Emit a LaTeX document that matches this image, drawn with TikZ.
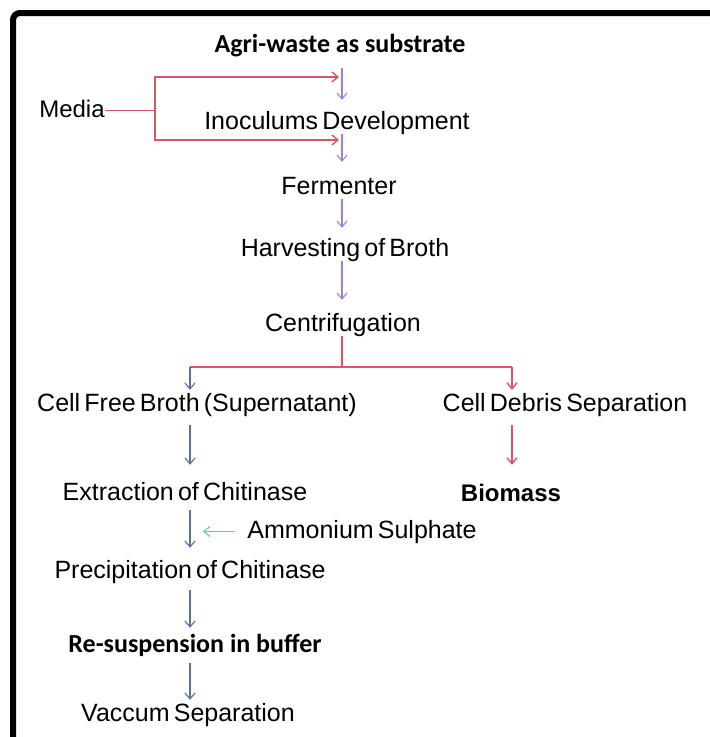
\documentclass[tikz,border=0pt]{standalone}
\usepackage{fontspec}
\setmainfont{Liberation Sans}[WordSpace=0.6]
\newfontfamily\calfont{Carlito}
\usetikzlibrary{arrows.meta,calc}
\definecolor{pcol}{RGB}{165,125,210}
\definecolor{rcol}{RGB}{215,85,100}
\definecolor{bcol}{RGB}{95,110,150}
\definecolor{gcol}{RGB}{90,205,155}
\tikzset{
  lbl/.style={inner sep=0pt, anchor=base, text height=18pt, text depth=5pt, font=\fontsize{25}{28}\selectfont},
  cal/.style={lbl, font=\calfont\bfseries\fontsize{26}{30}\selectfont},
  tip/.style={-{Straight Barb[length=6pt,width=10pt]}},
  parr/.style={tip, draw=pcol, line width=1.1pt},
  rline/.style={draw=rcol, line width=1.4pt},
  rarr/.style={tip, rline},
  barr/.style={tip, draw=bcol, line width=1.1pt},
  garr/.style={tip, draw=gcol, line width=1.1pt},
  frame/.style={line width=6pt, rounded corners=7pt}
}
\begin{document}
\begin{tikzpicture}[x=1pt,y=-1pt]
\useasboundingbox (0,0) rectangle (710,737);
\clip (0,0) rectangle (710,737);
\fill[white] (0,0) rectangle (710,737);
\draw[frame] (13,800) -- (13,13) -- (780,13);
% column coordinates
\coordinate (ax) at (342,0);
\coordinate (bx) at (190,0);
\coordinate (cx) at (512,0);
\coordinate (mx) at (155,0);
% nodes
\node[cal] (agri) at (340,52) {Agri-waste as substrate};
\node[lbl, font=\fontsize{24}{27}\selectfont] (media) at (72,117) {Media};
\node[lbl] (inoc) at (337,129) {Inoculums Development};
\node[lbl] (ferm) at (339,194) {Fermenter};
\node[lbl] (harv) at (345,256) {Harvesting of Broth};
\node[lbl] (centr) at (343,331) {Centrifugation};
\node[lbl] (cfb) at (197,411) {Cell Free Broth (Supernatant)};
\node[lbl] (cds) at (565,411) {Cell Debris Separation};
\node[lbl] (extr) at (185,500) {Extraction of Chitinase};
\node[lbl, font=\bfseries\fontsize{24}{27}\selectfont] (bio) at (511,501) {Biomass};
\node[lbl] (amm) at (362,538) {Ammonium Sulphate};
\node[lbl] (prec) at (190,578) {Precipitation of Chitinase};
\node[cal] (resus) at (195,652) {Re-suspension in buffer};
\node[lbl] (vac) at (188,721) {Vaccum Separation};
% junctions
\coordinate (mj) at (media.east -| mx);
\coordinate (rt) at (339,77);
\coordinate (rb) at (339,140);
\coordinate (cj) at (342,367);
\coordinate (cl) at (190,367);
\coordinate (cr) at (512,367);
% media bracket
\draw[rline, line width=1.6pt] (media.east) -- (mj);
\draw[rarr] (mj) |- (rt);
\draw[rarr] (mj) |- (rb);
% main column
\draw[parr, shorten <=11pt, shorten >=11pt] (agri.south -| ax) -- (inoc.north -| ax);
\draw[parr, shorten >=14pt] (inoc.south -| ax) -- (ferm.north -| ax);
\draw[parr, shorten >=10pt] (ferm.south -| ax) -- (harv.north -| ax);
\draw[parr, shorten >=13pt] (harv.south -| ax) -- (centr.north -| ax);
% split
\draw[rline] (centr.south -| ax) -- (cj);
\draw[rline] (cl) -- (cr);
\draw[barr, shorten >=3pt] (cl) -- (cfb.north -| bx);
\draw[rarr, shorten >=3pt] (cr) -- (cds.north -| cx);
% left column
\draw[barr, shorten <=9pt, shorten >=17pt] (cfb.south -| bx) -- (extr.north -| bx);
\draw[rarr, shorten <=9pt, shorten >=18pt] (cds.south -| cx) -- (bio.north -| cx);
\draw[barr, shorten <=5pt, shorten >=12pt] (extr.south -| bx) -- (prec.north -| bx);
\draw[garr, shorten <=12pt] (amm.west) -- ($(amm.west -| bx) + (13,0)$);
\draw[barr, shorten <=7pt, shorten >=6pt] (prec.south -| bx) -- (resus.north -| bx);
\draw[barr, shorten <=6pt, shorten >=3pt] (resus.south -| bx) -- (vac.north -| bx);
\end{tikzpicture}
\end{document}
